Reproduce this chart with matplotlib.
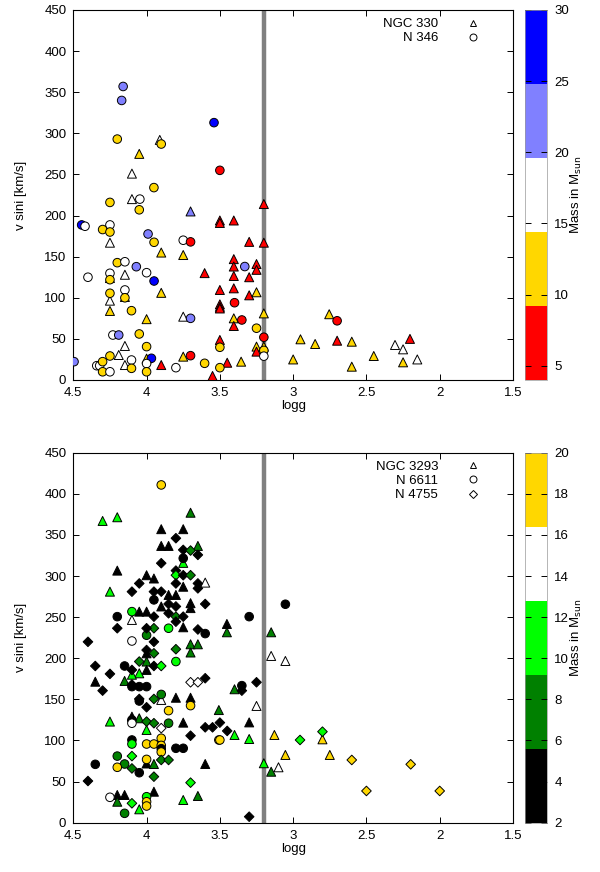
import numpy as np
import matplotlib
matplotlib.use("Agg")
import matplotlib.pyplot as plt
import matplotlib.cm as cm
from matplotlib.colors import ListedColormap, BoundaryNorm
from matplotlib.lines import Line2D

plt.rcParams['font.family'] = ['Liberation Sans', 'DejaVu Sans']
plt.rcParams['font.size'] = 9.5

# ---------------- top panel data ----------------
# NGC 330 (triangles)
n330_logg = [3.91, 4.05, 4.10, 4.10, 3.70, 3.50, 3.50, 3.405, 3.20, 4.25, 3.30, 3.20, 3.90, 3.75,
             3.405, 3.405, 3.25, 3.25, 4.148, 3.604, 3.405, 3.30, 4.25, 3.90, 4.148, 4.25, 4.25,
             3.50, 3.405, 3.30, 3.25, 3.50, 3.50, 3.50, 4.0, 3.75, 3.405, 3.405, 3.20, 4.148,
             3.50, 3.25, 3.25, 3.20, 4.19, 4.148, 4.0, 3.90, 3.75, 3.55, 3.45, 3.355,
             3.0, 2.95, 2.85, 2.754, 2.70, 2.60, 2.60, 2.45, 2.305, 2.25, 2.203, 2.25, 2.153]
n330_vsini = [292, 275, 251, 220, 205, 194, 191, 194, 214, 167, 168, 167, 155, 152,
              147, 138, 141, 134, 128, 130, 126.5, 125, 124, 106, 101, 96.5, 84,
              109.5, 111.5, 103, 106.7, 92, 89, 87, 74, 77, 75, 65.7, 81, 41.4,
              48.7, 40.6, 34.5, 40.6, 30.4, 18.2, 26, 18.2, 28.4, 4.9, 21, 22.3,
              25, 49.5, 43.8, 80, 47.8, 46.6, 16.2, 29.2, 42.6, 37.3, 50, 21.5, 25]
n330_mass = [17, 12, 17, 17, 22, 7, 7, 7, 7, 17, 7, 7, 12, 12,
             7, 7, 7, 7, 17, 7, 7, 7, 12, 12, 12, 17, 12,
             7, 7, 7, 12, 7, 7, 7, 12, 17, 12, 7, 12, 17,
             7, 12, 7, 12, 17, 17, 12, 7, 12, 7, 7, 12,
             12, 12, 12, 12, 7, 12, 12, 12, 17, 17, 7, 12, 17]

# N 346 (circles)
n346_logg = [4.16, 4.17, 3.54, 4.20, 3.90, 3.50, 3.95, 4.046, 4.25, 4.05, 4.443, 4.42, 4.25,
             4.30, 4.25, 3.99, 3.949, 3.75, 3.70, 4.20, 4.148, 4.07, 3.33, 4.40, 4.25, 4.0,
             4.25, 3.949, 4.148, 4.25, 4.148, 3.40, 4.103, 3.70, 3.35, 3.25, 4.23, 4.19,
             4.05, 4.0, 3.50, 3.20, 3.20, 3.20, 4.495, 4.34, 4.32, 4.30, 4.25, 4.103, 4.30,
             4.25, 4.103, 3.967, 4.0, 4.0, 3.80, 3.70, 3.604, 3.50, 2.70]
n346_vsini = [357, 340, 313, 293, 287, 255, 234, 220, 216, 207, 188.6, 187, 188.6,
              183, 180, 177.6, 167.5, 170, 168, 142.7, 143.8, 137.8, 138, 125, 129.8, 130.5,
              122, 120.4, 109.5, 105.5, 100, 94, 84.3, 75, 73, 63, 54.7, 54.7,
              56, 40.6, 39.8, 52, 36, 29, 22.3, 17.4, 17.4, 22.3, 29.2, 24.3, 10,
              10, 14.2, 26.4, 20, 10, 15, 29.6, 20.3, 15, 72]
n346_mass = [22, 22, 27, 12, 12, 7, 12, 17, 12, 12, 27, 17, 17,
             12, 12, 22, 12, 17, 7, 12, 17, 22, 22, 17, 17, 17,
             12, 27, 17, 12, 12, 7, 12, 22, 7, 12, 17, 22,
             12, 12, 12, 7, 12, 17, 22, 17, 17, 12, 12, 17, 12,
             17, 12, 27, 17, 12, 17, 7, 12, 12, 7]

# ---------------- bottom panel data ----------------
# NGC 3293 (triangles)
n3293_logg = [3.70, 4.30, 4.20, 3.90, 3.75, 3.90, 3.85, 3.65, 3.75, 4.20, 4.0, 3.95, 3.60, 3.75,
              4.25, 3.85, 3.80, 3.70, 3.90, 3.70, 4.05, 4.0, 4.10, 3.75, 3.70, 3.65, 3.70, 4.0,
              4.0, 4.0, 4.05, 4.10, 4.35, 4.15, 3.90, 3.80, 3.70, 3.507, 4.25, 4.10, 4.05, 4.0,
              3.75, 4.0, 3.95, 3.60, 4.20, 4.15, 4.20, 4.05, 3.95, 3.75, 3.65, 3.452, 3.452,
              3.15, 3.15, 3.053, 3.40, 3.25, 3.30, 3.40, 3.30, 3.128, 3.20, 3.15, 3.10, 3.053,
              2.80, 2.75]
n3293_vsini = [377, 367, 371.5, 357, 357, 336.6, 336.6, 336.6, 316, 306.6, 301, 297, 292, 287,
               281, 277, 277, 267, 263, 261, 256.7, 256.7, 246.6, 237.7, 217, 217, 207, 196,
               206, 185.8, 181.7, 180, 171.5, 172.4, 149.3, 152, 152, 137, 123, 129, 127, 112.8,
               121.7, 72, 71.4, 71.4, 33.7, 33.7, 25.5, 16.3, 37.7, 27.6, 32.5, 241.7, 231.6,
               231.6, 202.8, 196.7, 162.3, 142, 122, 106.7, 101.8, 106.7, 72.3, 62, 67.4, 82.4,
               101.4, 82.4]
n3293_mass = [7.5, 11, 11, 3.5, 3.5, 3.5, 3.5, 7.5, 11, 3.5, 3.5, 3.5, 14.5, 3.5,
              11, 3.5, 3.5, 3.5, 3.5, 3.5, 3.5, 3.5, 14.5, 3.5, 7.5, 7.5, 7.5, 7.5,
              3.5, 3.5, 11, 11, 3.5, 7.5, 14.5, 3.5, 3.5, 7.5, 11, 3.5, 7.5, 11,
              3.5, 3.5, 7.5, 3.5, 3.5, 3.5, 7.5, 11, 3.5, 11, 7.5, 3.5, 7.5,
              7.5, 14.5, 14.5, 7.5, 14.5, 3.5, 11, 11, 18, 11, 7.5, 14.5, 18,
              18, 18]

# N 6611 (circles)
n6611_logg = [3.90, 3.75, 3.95, 4.20, 4.10, 3.85, 4.0, 3.60, 4.10, 4.15, 3.80, 4.10, 4.05, 4.0,
              3.90, 4.05, 3.70, 3.85, 4.10, 4.10, 3.85, 3.507, 4.10, 4.10, 4.0, 3.95, 3.90,
              3.90, 3.90, 3.90, 3.80, 3.75, 4.20, 4.0, 4.15, 4.20, 4.05, 4.35, 4.25, 4.15,
              4.0, 4.0, 4.0, 3.053, 3.30, 3.35, 3.50]
n6611_vsini = [410.8, 321.6, 271, 250.6, 256.7, 236.5, 228, 230, 221, 190.6, 196, 165.5, 165.5,
               165.5, 156, 148, 142.4, 136.3, 125, 121, 121, 100.6, 100.6, 95.7, 95.7, 95.7,
               102.7, 94, 90, 86, 90.5, 90.5, 81, 77, 71.4, 67.4, 60.8, 71, 30.9, 11.4,
               31.6, 25.5, 20.3, 265.7, 250.6, 166.7, 100.6]
n6611_mass = [18, 3.5, 3.5, 3.5, 11, 11, 7.5, 3.5, 14.5, 3.5, 11, 3.5, 3.5, 3.5,
              7.5, 3.5, 18, 18, 3.5, 14.5, 7.5, 18, 3.5, 11, 18, 18, 18,
              18, 3.5, 18, 3.5, 3.5, 7.5, 18, 7.5, 18, 3.5, 3.5, 14.5, 7.5,
              11, 18, 18, 3.5, 3.5, 3.5, 18]

# N 4755 (diamonds)
n4755_logg = [3.80, 3.75, 3.70, 3.65, 3.90, 3.80, 3.80, 3.75, 3.70, 4.05, 3.80, 3.65, 3.65, 4.10,
              3.95, 3.90, 3.85, 3.60, 3.80, 3.95, 3.85, 3.80, 3.75, 3.80, 3.95, 4.20, 4.0, 3.65,
              4.40, 3.95, 3.95, 3.80, 4.35, 4.05, 3.95, 3.90, 4.10, 4.25, 3.70, 3.65, 3.60,
              4.30, 4.10, 3.95, 4.05, 4.0, 4.0, 3.95, 3.90, 3.60, 3.55, 3.50, 3.45, 3.70,
              4.10, 3.90, 3.85, 4.10, 3.95, 4.40, 3.70, 4.10, 3.25, 3.35, 3.30, 4.0,
              2.953, 2.80, 2.60, 2.50, 2.198, 2.0]
n4755_vsini = [346, 331.8, 331, 325.7, 315.6, 306.6, 301, 301, 301, 291, 291, 291, 285, 281,
               281, 281, 266, 266, 263, 250.6, 254.7, 250.6, 250.6, 244.5, 236.5, 236.5, 236.5, 235,
               220, 220, 206, 211, 190.6, 196, 190.6, 190.6, 185.8, 181, 170.8, 170.8, 175.7,
               160.6, 168, 150.5, 150.5, 140.4, 123, 121, 115, 116, 116, 121.7, 111.6, 105.8,
               81, 76.3, 76.3, 66, 56, 50.7, 48.7, 23.6, 170.8, 160.6, 7.3, 210,
               100.6, 110.7, 76.3, 38.6, 71, 38.6]
n4755_mass = [3.5, 3.5, 7.5, 3.5, 3.5, 3.5, 11, 3.5, 7.5, 3.5, 3.5, 3.5, 3.5, 3.5,
              3.5, 3.5, 3.5, 3.5, 3.5, 3.5, 3.5, 7.5, 3.5, 3.5, 7.5, 3.5, 3.5, 3.5,
              3.5, 3.5, 7.5, 7.5, 3.5, 7.5, 3.5, 11, 3.5, 3.5, 14.5, 14.5, 3.5,
              3.5, 3.5, 7.5, 3.5, 3.5, 7.5, 7.5, 14.5, 3.5, 3.5, 3.5, 3.5, 3.5,
              11, 7.5, 7.5, 7.5, 7.5, 3.5, 11, 11, 3.5, 3.5, 3.5, 3.5,
              11, 11, 18, 18, 18, 18]

x_ticks = [4.5, 4.0, 3.5, 3.0, 2.5, 2.0, 1.5]
x_ticklabels = ['4.5', '4', '3.5', '3', '2.5', '2', '1.5']
y_ticks = [0, 50, 100, 150, 200, 250, 300, 350, 400, 450]
top_cb_ticks = [5, 10, 15, 20, 25, 30]
bot_cb_ticks = [2, 4, 6, 8, 10, 12, 14, 16, 18, 20]
logg_limit = 3.2

top_colors = ['#ff0000', '#ffd700', '#ffffff', '#8080ff', '#0000ff']
bot_colors = ['#000000', '#008000', '#00ff00', '#ffffff', '#ffd700']
top_cmap = ListedColormap(top_colors)
top_norm = BoundaryNorm(np.linspace(4, 30, 6), 5)
bot_cmap = ListedColormap(bot_colors)
bot_norm = BoundaryNorm(np.linspace(2, 20, 6), 5)

W, H = 600, 872
fig = plt.figure(figsize=(6, 8.72), dpi=100)

def fx(px):
    return px / W

def fy(py):
    return 1 - py / H

ax1 = fig.add_axes([fx(73.3), fy(380), fx(513 - 73.3), (380 - 10) / H])
ax2 = fig.add_axes([fx(73.3), fy(822.7), fx(513 - 73.3), (822.7 - 452.7) / H])
cax1 = fig.add_axes([fx(525), fy(380), fx(547.3 - 525), (380 - 10) / H])
cax2 = fig.add_axes([fx(525), fy(822.7), fx(547.3 - 525), (822.7 - 452.7) / H])

S_CIRC = 38
S_TRI = 42
S_DIA = 24
EW = 0.7

def style_axes(ax):
    ax.set_xlim(4.5, 1.5)
    ax.set_ylim(0, 450)
    ax.set_xticks(x_ticks)
    ax.set_xticklabels(x_ticklabels)
    ax.set_yticks(y_ticks)
    ax.tick_params(direction='in', top=True, right=True, length=4, width=0.7, pad=5)
    for sp in ax.spines.values():
        sp.set_linewidth(0.8)
    ax.set_xlabel('logg', labelpad=1)
    ax.set_ylabel('v sini [km/s]', labelpad=12)
    ax.axvline(logg_limit, color='#808080', lw=3.2, zorder=1)

# top panel
style_axes(ax1)
ax1.scatter(n330_logg, n330_vsini, c=n330_mass, cmap=top_cmap, norm=top_norm,
            marker='^', s=S_TRI, edgecolors='black', linewidths=EW, zorder=3)
ax1.scatter(n346_logg, n346_vsini, c=n346_mass, cmap=top_cmap, norm=top_norm,
            marker='o', s=S_CIRC, edgecolors='black', linewidths=EW, zorder=3)
h1 = [Line2D([], [], marker='^', ls='none', mfc='none', mec='black', ms=5, mew=0.7),
      Line2D([], [], marker='o', ls='none', mfc='none', mec='black', ms=5, mew=0.7)]
ax1.legend(h1, ['NGC 330', 'N 346'], loc='upper right', frameon=False, markerfirst=False,
           handlelength=1.5, handletextpad=1.9, labelspacing=0.15,
           bbox_to_anchor=(0.95, 1.0), borderaxespad=0.2)

# bottom panel
style_axes(ax2)
ax2.scatter(n3293_logg, n3293_vsini, c=n3293_mass, cmap=bot_cmap, norm=bot_norm,
            marker='^', s=S_TRI, edgecolors='black', linewidths=EW, zorder=3)
ax2.scatter(n6611_logg, n6611_vsini, c=n6611_mass, cmap=bot_cmap, norm=bot_norm,
            marker='o', s=S_CIRC, edgecolors='black', linewidths=EW, zorder=3)
ax2.scatter(n4755_logg, n4755_vsini, c=n4755_mass, cmap=bot_cmap, norm=bot_norm,
            marker='D', s=S_DIA, edgecolors='black', linewidths=EW, zorder=3)
h2 = [Line2D([], [], marker='^', ls='none', mfc='none', mec='black', ms=5, mew=0.7),
      Line2D([], [], marker='o', ls='none', mfc='none', mec='black', ms=5, mew=0.7),
      Line2D([], [], marker='D', ls='none', mfc='none', mec='black', ms=4, mew=0.7)]
ax2.legend(h2, ['NGC 3293', 'N 6611', 'N 4755'], loc='upper right', frameon=False,
           markerfirst=False, handlelength=1.5, handletextpad=1.9, labelspacing=0.15,
           bbox_to_anchor=(0.95, 1.0), borderaxespad=0.2)

# colorbars
cb1 = fig.colorbar(cm.ScalarMappable(norm=plt.Normalize(4, 30), cmap=top_cmap), cax=cax1,
                   ticks=top_cb_ticks)
cb2 = fig.colorbar(cm.ScalarMappable(norm=plt.Normalize(2, 20), cmap=bot_cmap), cax=cax2,
                   ticks=bot_cb_ticks)
for cb in (cb1, cb2):
    cb.outline.set_linewidth(0.5)
    cb.outline.set_edgecolor('#999999')
    cb.ax.tick_params(axis='y', direction='in', left=True, right=True, labelright=True,
                      length=4, width=0.7, pad=5)
    cb.set_label(r'Mass in M$_{\rm sun}$', labelpad=0)

fig.savefig('out.png', dpi=100)
